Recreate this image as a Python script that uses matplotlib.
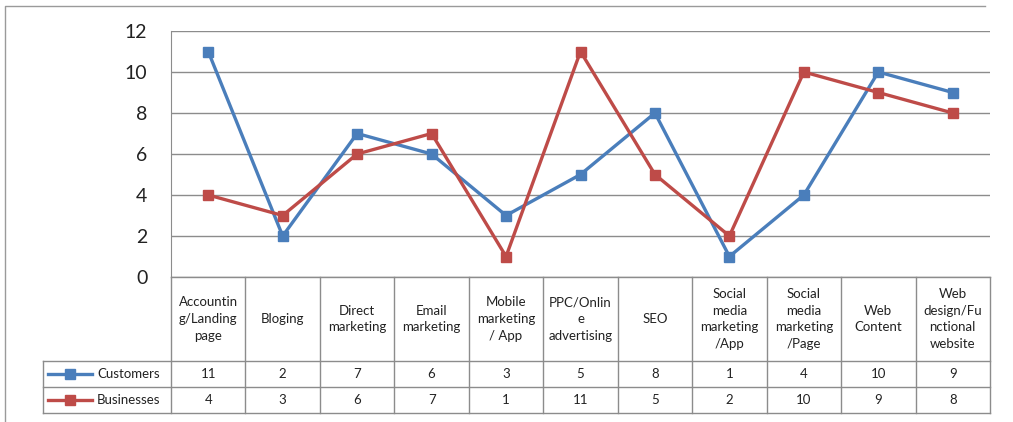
import matplotlib.pyplot as plt

# data
categories = ["Accountin\ng/Landing\npage", "Bloging", "Direct\nmarketing", "Email\nmarketing",
              "Mobile\nmarketing\n/ App", "PPC/Onlin\ne\nadvertising", "SEO",
              "Social\nmedia\nmarketing\n/App", "Social\nmedia\nmarketing\n/Page",
              "Web\nContent", "Web\ndesign/Fu\nnctional\nwebsite"]
customers = [11, 2, 7, 6, 3, 5, 8, 1, 4, 10, 9]
businesses = [4, 3, 6, 7, 1, 11, 5, 2, 10, 9, 8]
series = [("Customers", customers, "#4a7ebb"), ("Businesses", businesses, "#be4b48")]
yticks = [0, 2, 4, 6, 8, 10, 12]

W, H = 1013, 422
GRID = "#8c8c8c"
plt.rcParams['font.family'] = ['Lato', 'DejaVu Sans']

fig = plt.figure(figsize=(W / 100, H / 100), dpi=100)

# outer chart border
border = fig.add_axes([0, 0, 1, 1])
border.set_xlim(0, W)
border.set_ylim(H, 0)
border.axis('off')
border.plot([5, 5, 985], [H, 6, 6], color="#9a9a9a", lw=1)

# plot area
x0, x1, ytop, y0 = 171, 990, 31, 277
ax = fig.add_axes([x0 / W, (H - y0) / H, (x1 - x0) / W, (y0 - ytop) / H])
n = len(categories)
xs = range(n)
for name, vals, col in series:
    ax.plot(xs, vals, color=col, lw=2.4, marker='s', ms=6.5, zorder=3)
ax.set_xlim(-0.5, n - 0.5)
ax.set_ylim(0, 12)
ax.set_yticks(yticks)
ax.set_xticks([])
ax.tick_params(axis='y', length=0, pad=17, labelsize=14, labelcolor="#222222")
ax.grid(axis='y', color=GRID, lw=1)
ax.set_axisbelow(True)
for s in ['top', 'right', 'bottom']:
    ax.spines[s].set_visible(False)
ax.spines['left'].set_color(GRID)

# data table below
tl, tb = 43, 413
unit = (x1 - x0) / n
leg_w = (x0 - tl) / unit
tax = fig.add_axes([tl / W, (H - tb) / H, (x1 - tl) / W, (tb - y0) / H])
tax.set_xlim(-0.5 - leg_w, n - 0.5)
tax.set_ylim(tb - y0, 0)
tax.axis('off')
h_head, h_row = 84, 26
lkw = dict(color=GRID, lw=1, clip_on=False)
tax.plot([-0.5, n - 0.5], [0, 0], **lkw)
for yy in [h_head, h_head + h_row, h_head + 2 * h_row]:
    tax.plot([-0.5 - leg_w, n - 0.5], [yy, yy], **lkw)
for i in range(n + 1):
    tax.plot([i - 0.5, i - 0.5], [0, h_head + 2 * h_row], **lkw)
tax.plot([-0.5 - leg_w] * 2, [h_head, h_head + 2 * h_row], **lkw)

for i, lab in enumerate(categories):
    tax.text(i, h_head / 2, lab, ha='center', va='center', fontsize=9.5,
             linespacing=1.45, color="#222222")
for r, (name, vals, col) in enumerate(series):
    yc = h_head + h_row * (r + 0.5)
    lx = -0.5 - leg_w
    tax.plot([lx + 5 / unit, lx + 49 / unit], [yc, yc], color=col, lw=2.4, clip_on=False)
    tax.plot([lx + 27 / unit], [yc], color=col, marker='s', ms=6.5, clip_on=False)
    tax.text(lx + 54 / unit, yc, name, ha='left', va='center', fontsize=9.5, color="#222222")
    for i, v in enumerate(vals):
        tax.text(i, yc, str(v), ha='center', va='center', fontsize=9.5, color="#222222")

fig.savefig("out.png", dpi=100)
